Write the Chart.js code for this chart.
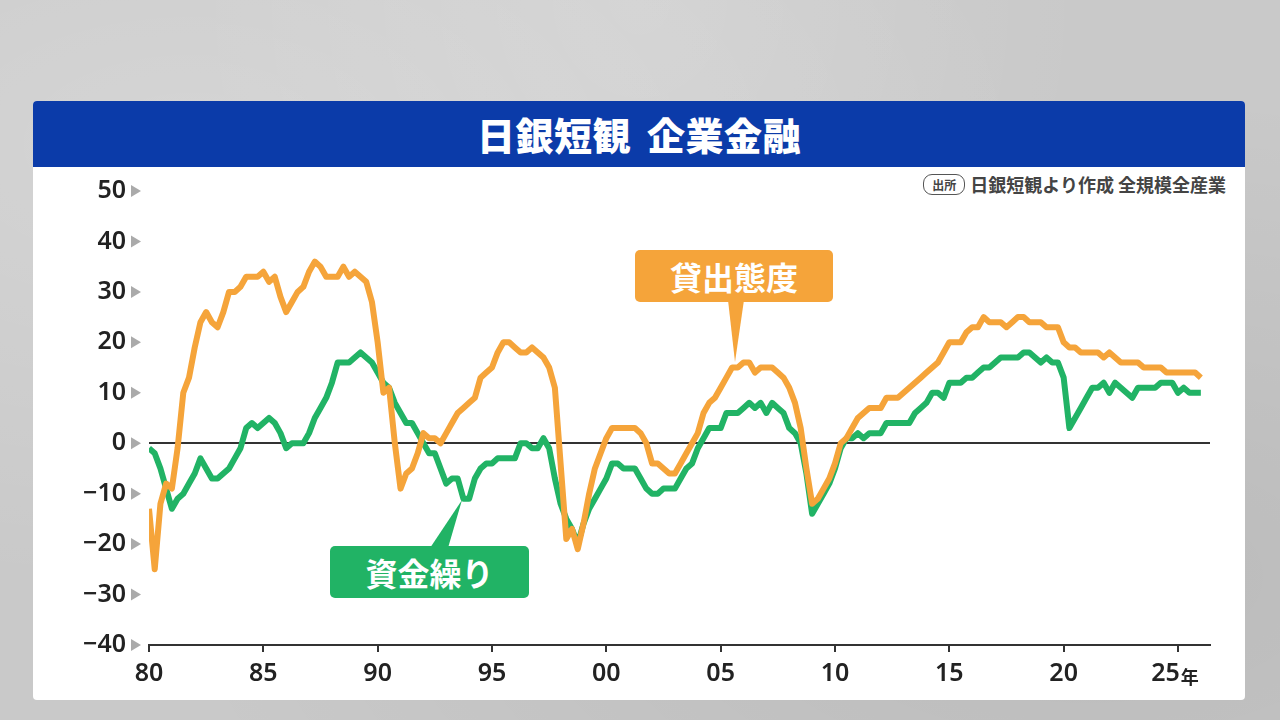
<!DOCTYPE html>
<html lang="ja">
<head>
<meta charset="utf-8">
<script src="https://cdn.jsdelivr.net/npm/chart.js@4.4.1/dist/chart.umd.min.js"></script>
<style>
html,body{margin:0;padding:0;}
body{width:1280px;height:720px;overflow:hidden;position:relative;background:#c9c9c9;font-family:"Noto Sans CJK JP",sans-serif;}
.bg{position:absolute;left:0;top:0;width:1280px;height:720px;
 background:
 radial-gradient(ellipse at 15% 20%, rgba(255,255,255,0.22), rgba(255,255,255,0) 55%),
 radial-gradient(ellipse at 85% 80%, rgba(0,0,0,0.07), rgba(0,0,0,0) 60%),
 radial-gradient(ellipse at 50% 0%, rgba(255,255,255,0.15), rgba(255,255,255,0) 50%);}
.card{position:absolute;left:33px;top:101px;width:1212px;height:599px;background:#fff;border-radius:4px;}
.header{position:absolute;left:33px;top:101px;width:1212px;height:66px;background:#0b3ba9;border-radius:4px 4px 0 0;color:#fff;font-weight:900;font-size:38px;text-align:center;line-height:66px;letter-spacing:0.5px;}
.header .gap{display:inline-block;width:16px;}
.source{position:absolute;right:54px;top:173px;height:22px;font-size:18px;font-weight:700;color:#444;display:flex;align-items:center;white-space:nowrap;}
.source .tag{border:1.8px solid #555;border-radius:9px;font-size:12px;font-weight:700;padding:0 8px;height:19px;line-height:19px;margin-right:5px;color:#444;}
canvas{position:absolute;left:0;top:0;}
svg.overlay{position:absolute;left:0;top:0;}
.callout{position:absolute;color:#fff;font-weight:700;font-size:32px;text-align:center;border-radius:5px;}
</style>
</head>
<body>
<div class="bg"></div>
<div class="card"></div>
<div class="header">日銀短観<span class="gap"></span>企業金融</div>
<div class="source"><span class="tag">出所</span>日銀短観より作成 全規模全産業</div>
<canvas id="c" width="1280" height="720" style="width:1280px;height:720px"></canvas>
<svg class="overlay" width="1280" height="720">
  <polygon points="728,300 744,300 735,362" fill="#f5a43a"/>
  <polygon points="430,548 448,548 462,500" fill="#21b365"/>
</svg>
<div class="callout" style="left:635px;top:250px;width:198px;height:52px;line-height:52px;background:#f5a43a;">貸出態度</div>
<div class="callout" style="left:330px;top:546px;width:199px;height:52px;line-height:52px;background:#21b365;">資金繰り</div>
<script>
const startYear = 1980;
const xTickYears = [1980, 1985, 1990, 1995, 2000, 2005, 2010, 2015, 2020, 2025];
const yTickValues = [-40, -30, -20, -10, 0, 10, 20, 30, 40, 50];

// 貸出態度 DI (quarterly, from 1980 Q1)
const lendingAttitude = [
 -13,-25,-12,-8,-9,-1,10,13,19,24,
 26,24,23,26,30,30,31,33,33,33,
 34,32,33,29,26,28,30,31,34,36,
 35,33,33,33,35,33,34,33,32,28,
 20,10,11,0,-9,-6,-5,-2,2,1,
 1,0,2,4,6,7,8,9,13,14,
 15,18,20,20,19,18,18,19,18,17,
 15,11,-4,-19,-17,-21,-16,-10,-5,-2,
 1,3,3,3,3,3,2,0,-4,-4,
 -5,-6,-6,-4,-2,0,2,6,8,9,
 11,13,15,15,16,16,14,15,15,15,
 14,13,11,8,3,-5,-12,-11,-9,-7,
 -4,0,1,3,5,6,7,7,7,9,
 9,9,10,11,12,13,14,15,16,18,
 20,20,20,22,23,23,25,24,24,24,
 23,24,25,25,24,24,24,23,23,23,
 20,19,19,18,18,18,18,17,18,17,
 16,16,16,16,15,15,15,15,14,14,
 14,14,14,14,13
];

// 資金繰り DI (quarterly, from 1980 Q1)
const cashFlow = [
 -1,-2,-5,-9,-13,-11,-10,-8,-6,-3,
 -5,-7,-7,-6,-5,-3,-1,3,4,3,
 4,5,4,2,-1,0,0,0,2,5,
 7,9,12,16,16,16,17,18,17,16,
 14,12,11,8,6,4,4,2,0,-2,
 -2,-5,-8,-7,-7,-11,-11,-7,-5,-4,
 -4,-3,-3,-3,-3,0,0,-1,-1,1,
 -1,-7,-12,-15,-17,-20,-16,-13,-11,-9,
 -7,-4,-4,-5,-5,-5,-7,-9,-10,-10,
 -9,-9,-9,-7,-5,-4,-1,1,3,3,
 3,6,6,6,7,8,7,8,6,8,
 7,6,3,2,0,-6,-14,-12,-10,-8,
 -5,-1,1,1,2,1,2,2,2,4,
 4,4,4,4,6,7,8,10,10,9,
 12,12,12,13,13,14,15,15,16,17,
 17,17,17,18,18,17,16,17,16,16,
 13,3,5,7,9,11,11,12,10,12,
 11,10,9,11,11,11,11,12,12,12,
 10,11,10,10,10
];

const quarterPos = lendingAttitude.map((_, i) => startYear + i / 4);

const ORANGE = '#f5a43a';
const GREEN = '#21b365';
const TICK_FONT = "'Noto Sans', 'DejaVu Sans', sans-serif";
const TICK_WEIGHT = '600';
const TICK_SIZE = 25;

const decorPlugin = {
  id: 'decor',
  afterDraw(chart) {
    const c = chart.ctx;
    const ys = chart.scales.y;
    const xs = chart.scales.x;
    const left = chart.chartArea.left;
    c.save();
    c.fillStyle = '#aaaaaa';
    ys.ticks.forEach(t => {
      const py = ys.getPixelForValue(t.value);
      c.beginPath();
      c.moveTo(left - 18, py - 6);
      c.lineTo(left - 8, py);
      c.lineTo(left - 18, py + 6);
      c.closePath();
      c.fill();
    });
    // 年 suffix after the last year label
    const lastYear = xTickYears[xTickYears.length - 1];
    const px = xs.getPixelForValue(lastYear);
    c.font = TICK_WEIGHT + ' ' + TICK_SIZE + 'px ' + TICK_FONT;
    const numStr = String(lastYear % 100).padStart(2, '0');
    const full = c.measureText(numStr + '\u2003').width;
    const num = c.measureText(numStr).width;
    c.font = "700 18px 'Noto Sans CJK JP'";
    c.fillStyle = '#222';
    c.textBaseline = 'alphabetic';
    c.textAlign = 'left';
    c.fillText('年', px - full / 2 + num + 1, 684);
    c.restore();
  }
};

new Chart(document.getElementById('c'), {
  type: 'line',
  data: {
    datasets: [
      {
        label: '貸出態度',
        data: quarterPos.map((x, i) => ({ x, y: lendingAttitude[i] })),
        borderColor: ORANGE,
        borderWidth: 6,
        pointRadius: 0,
        tension: 0,
        borderJoinStyle: 'round',
        fill: false,
        order: 0
      },
      {
        label: '資金繰り',
        data: quarterPos.map((x, i) => ({ x, y: cashFlow[i] })),
        borderColor: GREEN,
        borderWidth: 6,
        pointRadius: 0,
        tension: 0,
        borderJoinStyle: 'round',
        fill: false,
        order: 1
      }
    ]
  },
  options: {
    responsive: false,
    animation: false,
    layout: { padding: { left: 0, top: 191, right: 70, bottom: 0 } },
    plugins: { legend: { display: false }, tooltip: { enabled: false } },
    scales: {
      x: {
        type: 'linear',
        min: 1980,
        max: 2026.4,
        afterBuildTicks: s => { s.ticks = xTickYears.map(v => ({ value: v })); },
        afterFit: s => { s.height = 75; },
        grid: { drawOnChartArea: false, drawTicks: true, tickLength: 7, color: '#333', lineWidth: 2 },
        border: { display: true, color: '#333', width: 2 },
        ticks: {
          autoSkip: false, maxRotation: 0, minRotation: 0, padding: 7, color: '#222',
          font: { family: TICK_FONT, size: TICK_SIZE, weight: TICK_WEIGHT },
          callback: v => {
            const s = String(v % 100).padStart(2, '0');
            return v === xTickYears[xTickYears.length - 1] ? s + '\u2003' : s;
          }
        }
      },
      y: {
        min: -40,
        max: 50,
        afterBuildTicks: s => { s.ticks = yTickValues.map(v => ({ value: v })); },
        afterFit: s => { s.width = 149; },
        grid: {
          drawTicks: false,
          color: c => (c.tick && c.tick.value === 0) ? '#333' : 'rgba(0,0,0,0)',
          lineWidth: 2
        },
        border: { display: false },
        ticks: {
          padding: 23, color: '#222',
          font: { family: TICK_FONT, size: TICK_SIZE, weight: TICK_WEIGHT },
          callback: v => v < 0 ? '\u2212' + Math.abs(v) : String(v)
        }
      }
    }
  },
  plugins: [decorPlugin]
});
</script>
</body>
</html>
